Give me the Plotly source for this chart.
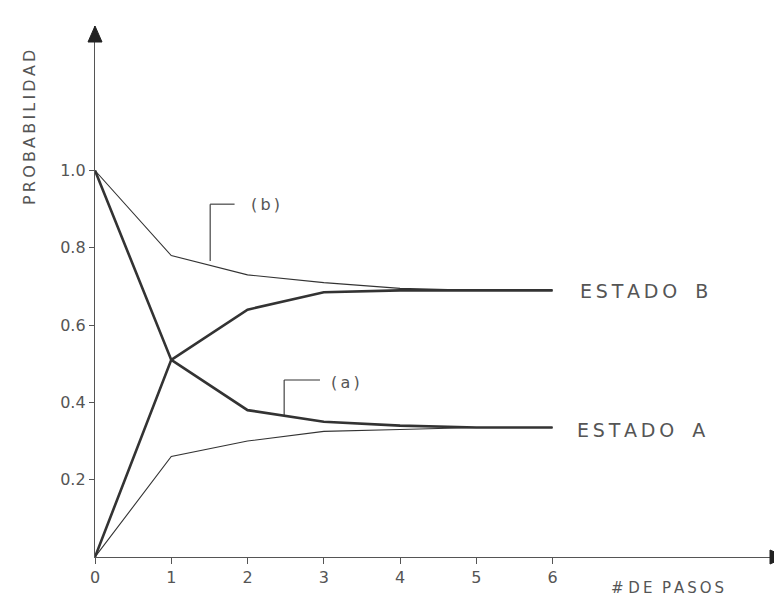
import plotly.graph_objects as go

pasos = [0, 1, 2, 3, 4, 5, 6]
# (a) starts in state A (thick lines)
a_estado_A = [1.0, 0.51, 0.38, 0.35, 0.34, 0.335, 0.335]
a_estado_B = [0.0, 0.51, 0.64, 0.685, 0.69, 0.69, 0.69]
# (b) starts in state B (thin lines)
b_estado_B = [1.0, 0.78, 0.73, 0.71, 0.695, 0.69, 0.69]
b_estado_A = [0.0, 0.26, 0.30, 0.325, 0.33, 0.335, 0.335]

x_ticks = [0, 1, 2, 3, 4, 5, 6]
x_tick_labels = ["0", "1", "2", "3", "4", "5", "6"]
y_ticks = [0.2, 0.4, 0.6, 0.8, 1.0]
y_tick_labels = ["0.2", "0.4", "0.6", "0.8", "1.0"]

W, H = 782, 596
ML, MR, MT, MB = 87, 4, 18, 47
PW, PH = W - ML - MR, H - MT - MB
XMAX = 9.06
YMAX = 1.374
ink = "#333333"
txt = "#555555"
font = "DejaVu Sans"

fig = go.Figure()
for ys, w in [(b_estado_B, 1.1), (b_estado_A, 1.1), (a_estado_A, 2.6), (a_estado_B, 2.6)]:
    fig.add_trace(go.Scatter(x=pasos, y=ys, mode="lines",
                             line=dict(color=ink, width=w), showlegend=False,
                             hoverinfo="skip", cliponaxis=False))

fig.update_xaxes(range=[0, XMAX], tickvals=x_ticks, ticktext=x_tick_labels,
                 showgrid=False, zeroline=False, showline=True, linecolor="#555",
                 linewidth=1.3, ticks="outside", ticklen=6, tickcolor="#555",
                 tickwidth=1.2, tickfont=dict(family=font, size=16, color=txt))
fig.update_yaxes(range=[0, YMAX], tickvals=y_ticks, ticktext=y_tick_labels,
                 showgrid=False, zeroline=False, showline=True, linecolor="#555",
                 linewidth=1.3, ticks="outside", ticklen=5, tickcolor="#555",
                 tickwidth=1.2, tickfont=dict(family=font, size=16, color=txt))

sp = "\u2009"
ann = []
ann.append(dict(x=-0.094, y=0.808, xref="paper", yref="paper", xanchor="center",
                yanchor="middle", text=sp.join("PROBABILIDAD"),
                textangle=-90, showarrow=False,
                font=dict(family=font, size=16, color=txt)))
ann.append(dict(x=6.33, y=0.688, xref="x", yref="y", xanchor="left",
                text=sp.join("ESTADO") + "   B", showarrow=False,
                font=dict(family=font, size=19, color=txt)))
ann.append(dict(x=6.29, y=0.329, xref="x", yref="y", xanchor="left",
                text=sp.join("ESTADO") + "   A", showarrow=False,
                font=dict(family=font, size=19, color=txt)))
ann.append(dict(x=0.745, y=-0.058, xref="paper", yref="paper", xanchor="left",
                yanchor="middle", borderpad=0,
                text="#" + " " + sp.join("DE") + "  " + sp.join("PASOS"), showarrow=False,
                font=dict(family=font, size=15, color=txt)))
ann.append(dict(x=2.24, y=0.913, xref="x", yref="y", text="(" + sp + "b" + sp + ")",
                showarrow=False, font=dict(family=font, size=16, color=txt)))
ann.append(dict(x=3.28, y=0.452, xref="x", yref="y", text="(" + sp + "a" + sp + ")",
                showarrow=False, font=dict(family=font, size=16, color=txt)))

# arrowheads as paper-space triangles
ax_len, ax_half = 16 / PW, 7 / PH
ay_len, ay_half = 16 / PH, 7 / PW
shapes = [
    dict(type="path", xref="paper", yref="paper",
         path=f"M 1 0 L {1-ax_len} {ax_half} L {1-ax_len} {-ax_half} Z",
         fillcolor="#222", line=dict(color="#222", width=1)),
    dict(type="path", xref="paper", yref="paper",
         path=f"M 0 1 L {ay_half} {1-ay_len} L {-ay_half} {1-ay_len} Z",
         fillcolor="#222", line=dict(color="#222", width=1)),
    dict(type="line", x0=1.51, y0=0.766, x1=1.51, y1=0.913, xref="x", yref="y",
         line=dict(color=ink, width=1.1)),
    dict(type="line", x0=1.51, y0=0.913, x1=1.83, y1=0.913, xref="x", yref="y",
         line=dict(color=ink, width=1.1)),
    dict(type="line", x0=2.48, y0=0.365, x1=2.48, y1=0.458, xref="x", yref="y",
         line=dict(color=ink, width=1.1)),
    dict(type="line", x0=2.48, y0=0.458, x1=2.95, y1=0.458, xref="x", yref="y",
         line=dict(color=ink, width=1.1)),
]

fig.update_layout(width=W, height=H, margin=dict(l=ML, r=MR, t=MT, b=MB),
                  plot_bgcolor="white", paper_bgcolor="white",
                  annotations=ann, shapes=shapes)

fig.write_html("out.html")
